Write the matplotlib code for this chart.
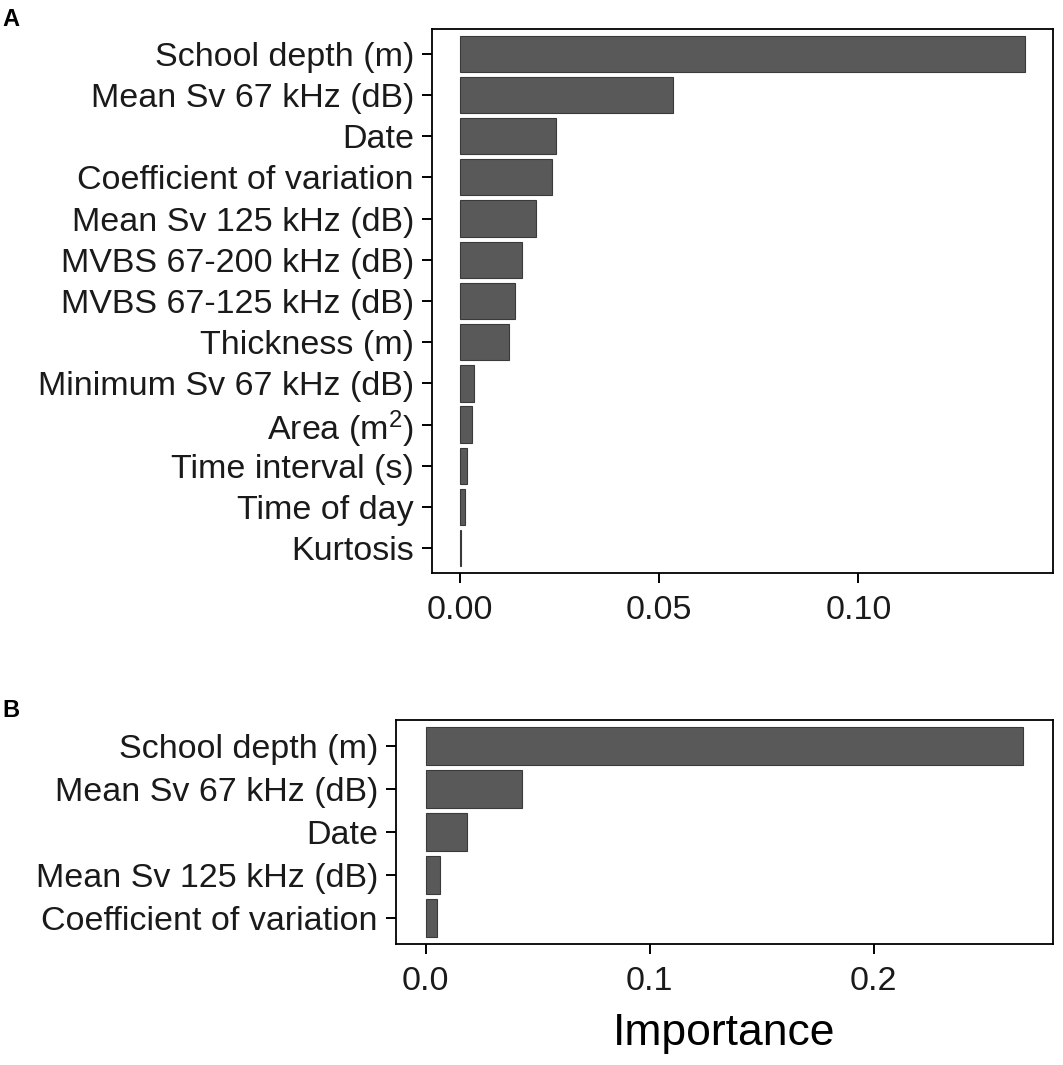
import matplotlib
matplotlib.use("Agg")
import matplotlib.pyplot as plt

plt.rcParams['font.family'] = ['Liberation Sans', 'DejaVu Sans']
plt.rcParams['mathtext.fontset'] = 'custom'
plt.rcParams['mathtext.rm'] = 'Liberation Sans'
plt.rcParams['mathtext.it'] = 'Liberation Sans'

# panel A: all predictors
labels_a = ["School depth (m)", "Mean Sv 67 kHz (dB)", "Date",
            "Coefficient of variation", "Mean Sv 125 kHz (dB)",
            "MVBS 67-200 kHz (dB)", "MVBS 67-125 kHz (dB)", "Thickness (m)",
            "Minimum Sv 67 kHz (dB)", "Area (m$^{2}$)", "Time interval (s)",
            "Time of day", "Kurtosis"]
imp_a = [0.1418, 0.0535, 0.0240, 0.0230, 0.0190, 0.0155, 0.01375, 0.01225,
         0.0035, 0.0030, 0.0017, 0.0011, 0.0002]
ticks_a = [0.00, 0.05, 0.10]
ticklabels_a = ["0.00", "0.05", "0.10"]

# panel B: reduced model
labels_b = ["School depth (m)", "Mean Sv 67 kHz (dB)", "Date",
            "Mean Sv 125 kHz (dB)", "Coefficient of variation"]
imp_b = [0.2668, 0.0429, 0.0183, 0.0064, 0.0049]
ticks_b = [0.0, 0.1, 0.2]
ticklabels_b = ["0.0", "0.1", "0.2"]

bar_fc = "#595959"
bar_ec = "#3a3a3a"
txt = "#1a1a1a"

fig = plt.figure(figsize=(10.63, 10.65), dpi=100)
ax_a = fig.add_axes([0.4064, 0.4620, 0.5842, 0.5108])
ax_b = fig.add_axes([0.3725, 0.1136, 0.6181, 0.2103])


def draw(ax, labels, vals, ticks, ticklabels):
    n = len(labels)
    ys = list(range(n))
    ax.barh(ys, vals, height=0.88, color=bar_fc, edgecolor=bar_ec, linewidth=0.8)
    ax.set_yticks(ys)
    ax.set_yticklabels(labels)
    ax.set_ylim(n - 1 + 0.6, -0.6)
    vmax = max(vals)
    pad = vmax * 0.05
    ax.set_xlim(-pad, vmax + pad)
    ax.set_xticks(ticks)
    ax.set_xticklabels(ticklabels)
    ax.tick_params(axis='both', labelsize=24.5, length=7, width=1.4,
                   color='black', labelcolor=txt)
    ax.tick_params(axis='y', pad=6)
    ax.tick_params(axis='x', pad=9)
    for s in ax.spines.values():
        s.set_linewidth(1.3)
        s.set_color('black')


draw(ax_a, labels_a, imp_a, ticks_a, ticklabels_a)
draw(ax_b, labels_b, imp_b, ticks_b, ticklabels_b)
ax_b.set_xlabel("Importance", fontsize=32, color='black', labelpad=11)

fig.text(0.002, 0.982, "A", fontsize=17, fontweight='bold', va='center', ha='left')
fig.text(0.002, 0.333, "B", fontsize=17, fontweight='bold', va='center', ha='left')

plt.savefig("out.png", dpi=100, facecolor='white')
